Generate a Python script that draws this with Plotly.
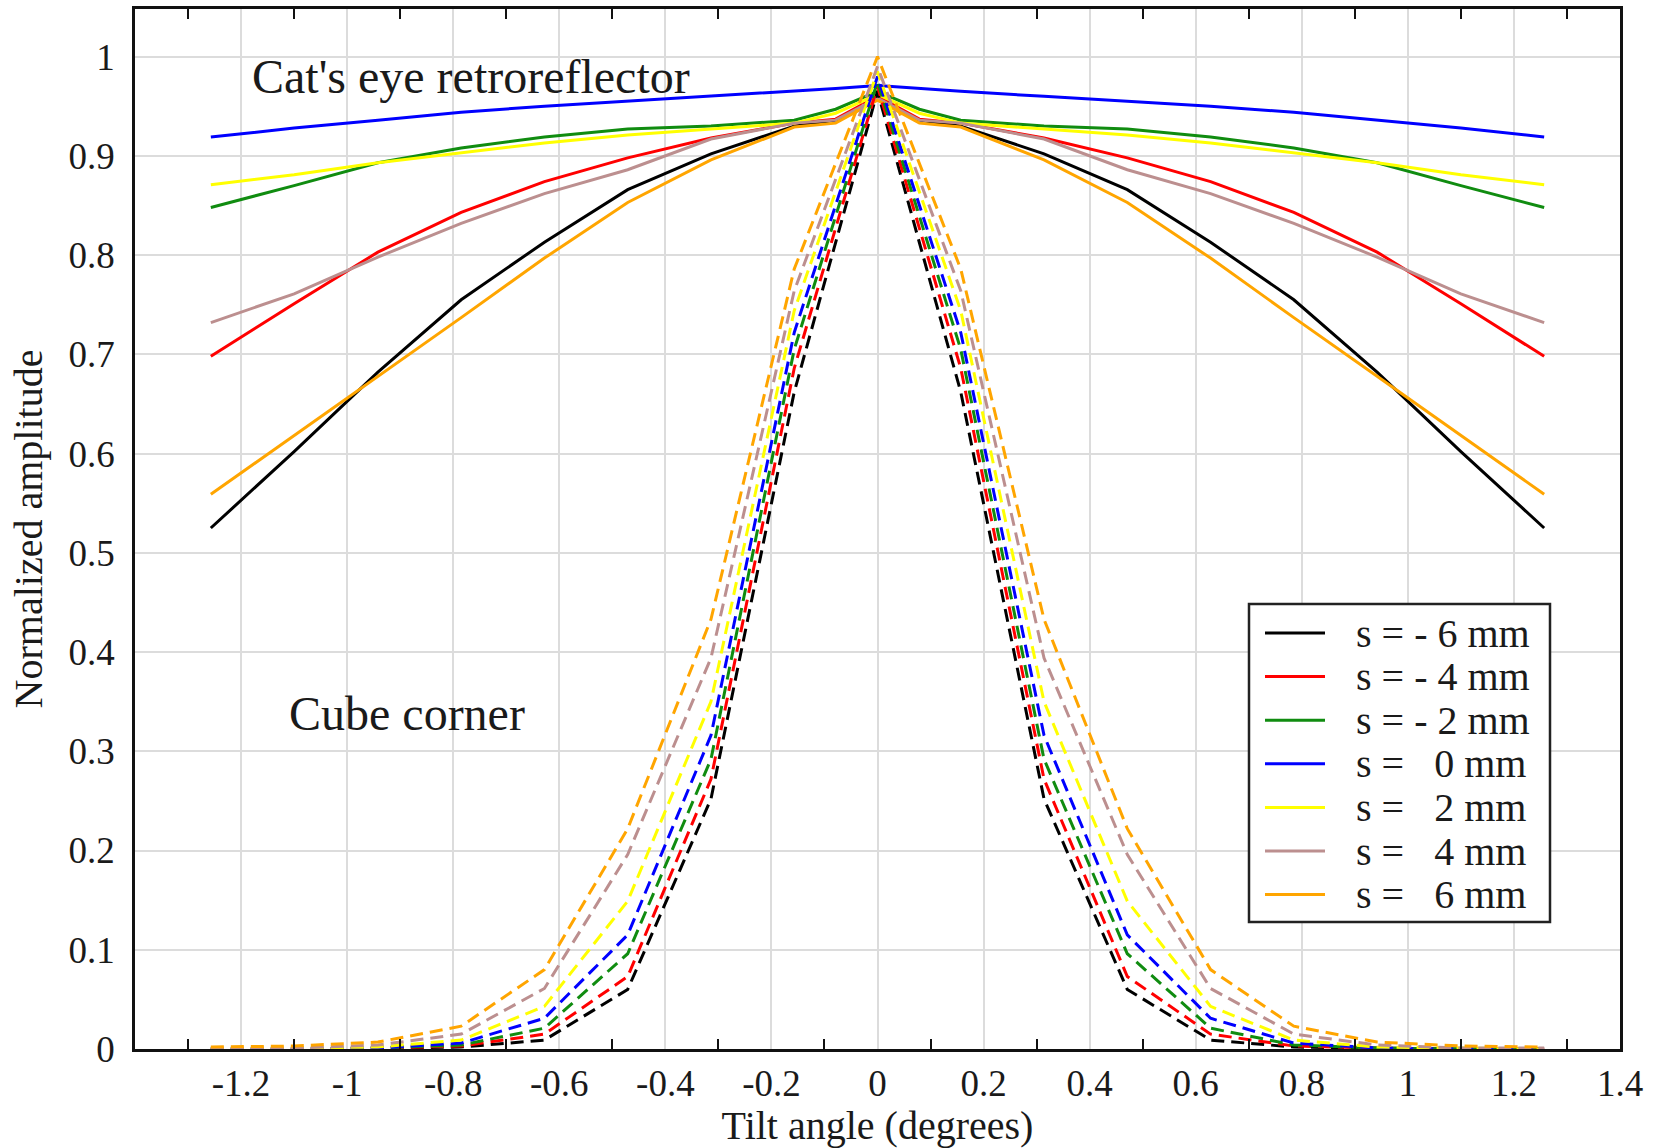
import plotly.graph_objects as go

# ---------------- data ----------------
x_cat = [-1.257, -1.100, -0.942, -0.785, -0.628, -0.471, -0.314, -0.157, -0.079, 0.0,
         0.079, 0.157, 0.314, 0.471, 0.628, 0.785, 0.942, 1.100, 1.257]
x_cube = [-1.257, -1.100, -0.942, -0.785, -0.628, -0.471, -0.314, -0.157, 0.0,
          0.157, 0.314, 0.471, 0.628, 0.785, 0.942, 1.100, 1.257]

names = ["s = - 6 mm", "s = - 4 mm", "s = - 2 mm", "s =\u00a0\u00a0 0 mm",
         "s =\u00a0\u00a0 2 mm", "s =\u00a0\u00a0 4 mm", "s =\u00a0\u00a0 6 mm"]
colors = ["#000000", "#ff0000", "#108c10", "#0000ff", "#ffff00", "#bc8f8f", "#ffa500"]

cat_m6 = [0.525, 0.602, 0.682, 0.755, 0.813, 0.866, 0.902, 0.930, 0.936, 0.958,
          0.936, 0.930, 0.902, 0.866, 0.813, 0.755, 0.682, 0.602, 0.525]
cat_m4 = [0.698, 0.751, 0.803, 0.843, 0.874, 0.898, 0.918, 0.933, 0.937, 0.960,
          0.937, 0.933, 0.918, 0.898, 0.874, 0.843, 0.803, 0.751, 0.698]
cat_m2 = [0.848, 0.870, 0.893, 0.908, 0.919, 0.927, 0.930, 0.936, 0.947, 0.965,
          0.947, 0.936, 0.930, 0.927, 0.919, 0.908, 0.893, 0.870, 0.848]
cat_0 = [0.919, 0.928, 0.936, 0.944, 0.950, 0.955, 0.960, 0.965, 0.968, 0.971,
         0.968, 0.965, 0.960, 0.955, 0.950, 0.944, 0.936, 0.928, 0.919]
cat_p2 = [0.871, 0.881, 0.893, 0.903, 0.913, 0.921, 0.927, 0.933, 0.943, 0.962,
          0.943, 0.933, 0.927, 0.921, 0.913, 0.903, 0.893, 0.881, 0.871]
cat_p4 = [0.732, 0.761, 0.798, 0.832, 0.862, 0.886, 0.917, 0.933, 0.936, 0.958,
          0.936, 0.933, 0.917, 0.886, 0.862, 0.832, 0.798, 0.761, 0.732]
cat_p6 = [0.559, 0.618, 0.678, 0.737, 0.797, 0.853, 0.896, 0.929, 0.933, 0.956,
          0.933, 0.929, 0.896, 0.853, 0.797, 0.737, 0.678, 0.618, 0.559]

cube_m6 = [0.000, 0.000, 0.001, 0.002, 0.009, 0.060, 0.252, 0.662, 0.965,
           0.662, 0.252, 0.060, 0.009, 0.002, 0.001, 0.000, 0.000]
cube_m4 = [0.000, 0.000, 0.001, 0.003, 0.015, 0.073, 0.272, 0.686, 0.970,
           0.686, 0.272, 0.073, 0.015, 0.003, 0.001, 0.000, 0.000]
cube_m2 = [0.000, 0.000, 0.001, 0.004, 0.021, 0.096, 0.292, 0.705, 0.975,
           0.705, 0.292, 0.096, 0.021, 0.004, 0.001, 0.000, 0.000]
cube_0 = [0.000, 0.000, 0.001, 0.006, 0.031, 0.115, 0.316, 0.722, 0.980,
          0.722, 0.316, 0.115, 0.031, 0.006, 0.001, 0.000, 0.000]
cube_p2 = [0.000, 0.001, 0.002, 0.009, 0.043, 0.149, 0.350, 0.744, 0.985,
           0.744, 0.350, 0.149, 0.043, 0.009, 0.002, 0.001, 0.000]
cube_p4 = [0.001, 0.001, 0.004, 0.015, 0.061, 0.196, 0.394, 0.764, 0.990,
           0.764, 0.394, 0.196, 0.061, 0.015, 0.004, 0.001, 0.001]
cube_p6 = [0.002, 0.003, 0.007, 0.023, 0.080, 0.222, 0.433, 0.786, 1.000,
           0.786, 0.433, 0.222, 0.080, 0.023, 0.007, 0.003, 0.002]

cat_series = [cat_m6, cat_m4, cat_m2, cat_0, cat_p2, cat_p4, cat_p6]
cube_series = [cube_m6, cube_m4, cube_m2, cube_0, cube_p2, cube_p4, cube_p6]

x_tick_vals = [-1.2, -1.0, -0.8, -0.6, -0.4, -0.2, 0.0, 0.2, 0.4, 0.6, 0.8, 1.0, 1.2, 1.4]
x_tick_text = ["-1.2", "-1", "-0.8", "-0.6", "-0.4", "-0.2", "0", "0.2", "0.4", "0.6",
               "0.8", "1", "1.2", "1.4"]
x_minor_vals = [-1.3, -1.1, -0.9, -0.7, -0.5, -0.3, -0.1, 0.1, 0.3, 0.5, 0.7, 0.9, 1.1, 1.3]
y_tick_vals = [0, 0.1, 0.2, 0.3, 0.4, 0.5, 0.6, 0.7, 0.8, 0.9, 1.0]
y_tick_text = ["0", "0.1", "0.2", "0.3", "0.4", "0.5", "0.6", "0.7", "0.8", "0.9", "1"]

FONT = "Liberation Serif, Times New Roman, serif"
TXT = "#1a1a1a"

W, H = 1662, 1148
ML, MR, MT, MB = 135, 42, 9, 99


def px_x(p):  # pixel -> paper x
    return (p - ML) / (W - ML - MR)


def px_y(p):  # pixel -> paper y
    return (H - MB - p) / (H - MT - MB)


fig = go.Figure()
for name, col, ys in zip(names, colors, cat_series):
    fig.add_trace(go.Scatter(x=x_cat, y=ys, mode="lines", name=name, showlegend=False,
                             line=dict(color=col, width=3)))
for name, col, ys in zip(names, colors, cube_series):
    fig.add_trace(go.Scatter(x=x_cube, y=ys, mode="lines", name=name, showlegend=False,
                             line=dict(color=col, width=3, dash="13px,7px")))

fig.add_annotation(x=-0.767, y=0.980, xref="x", yref="y", text="Cat's eye retroreflector",
                   showarrow=False, font=dict(family=FONT, size=48, color=TXT))
fig.add_annotation(x=-0.888, y=0.338, xref="x", yref="y", text="Cube corner",
                   showarrow=False, font=dict(family=FONT, size=48, color=TXT))

# ---- legend box (drawn as shapes + text) ----
shapes = [dict(type="rect", xref="paper", yref="paper", layer="above",
               x0=px_x(1249), x1=px_x(1550), y0=px_y(922), y1=px_y(604),
               line=dict(color="#222222", width=2.5), fillcolor="white")]
row0, row_gap = 633, 43.6
for i, (name, col) in enumerate(zip(names, colors)):
    yy = px_y(row0 + i * row_gap)
    shapes.append(dict(type="line", xref="paper", yref="paper", layer="above",
                       x0=px_x(1265), x1=px_x(1325), y0=yy, y1=yy,
                       line=dict(color=col, width=3)))
    fig.add_annotation(x=px_x(1354), y=yy, xref="paper", yref="paper", text=name,
                       showarrow=False, xanchor="left", yanchor="middle",
                       font=dict(family=FONT, size=40, color=TXT))

fig.update_layout(
    width=W, height=H,
    margin=dict(l=ML, r=MR, t=MT, b=MB, autoexpand=False),
    paper_bgcolor="white", plot_bgcolor="white",
    font=dict(family=FONT, color=TXT),
    showlegend=False,
    shapes=shapes,
    xaxis=dict(range=[-1.4, 1.4], tickmode="array", tickvals=x_tick_vals,
               ticktext=x_tick_text, ticks="", showgrid=True, gridcolor="#dcdcdc",
               gridwidth=2, zeroline=False, showline=True, linecolor="#111111",
               linewidth=2.5, mirror="allticks", automargin=False,
               tickfont=dict(family=FONT, size=37, color=TXT), ticklabelstandoff=0,
               minor=dict(tickmode="array", tickvals=x_minor_vals, ticks="inside",
                          ticklen=10, tickwidth=2, tickcolor="#111111", showgrid=False),
               title=dict(text="Tilt angle (degrees)", standoff=6,
                          font=dict(family=FONT, size=40, color=TXT))),
    yaxis=dict(range=[0, 1.048], tickmode="array", tickvals=y_tick_vals,
               ticktext=y_tick_text, ticks="", showgrid=True, gridcolor="#dcdcdc",
               gridwidth=2, zeroline=False, showline=True, linecolor="#111111",
               linewidth=2.5, mirror=True, automargin=False,
               tickfont=dict(family=FONT, size=37, color=TXT), ticklabelstandoff=10,
               title=dict(text="Normalized amplitude", standoff=14,
                          font=dict(family=FONT, size=40, color=TXT))),
)

fig.write_html("out.html", config={"displayModeBar": False},
               post_script="document.body.style.margin='0px';")
